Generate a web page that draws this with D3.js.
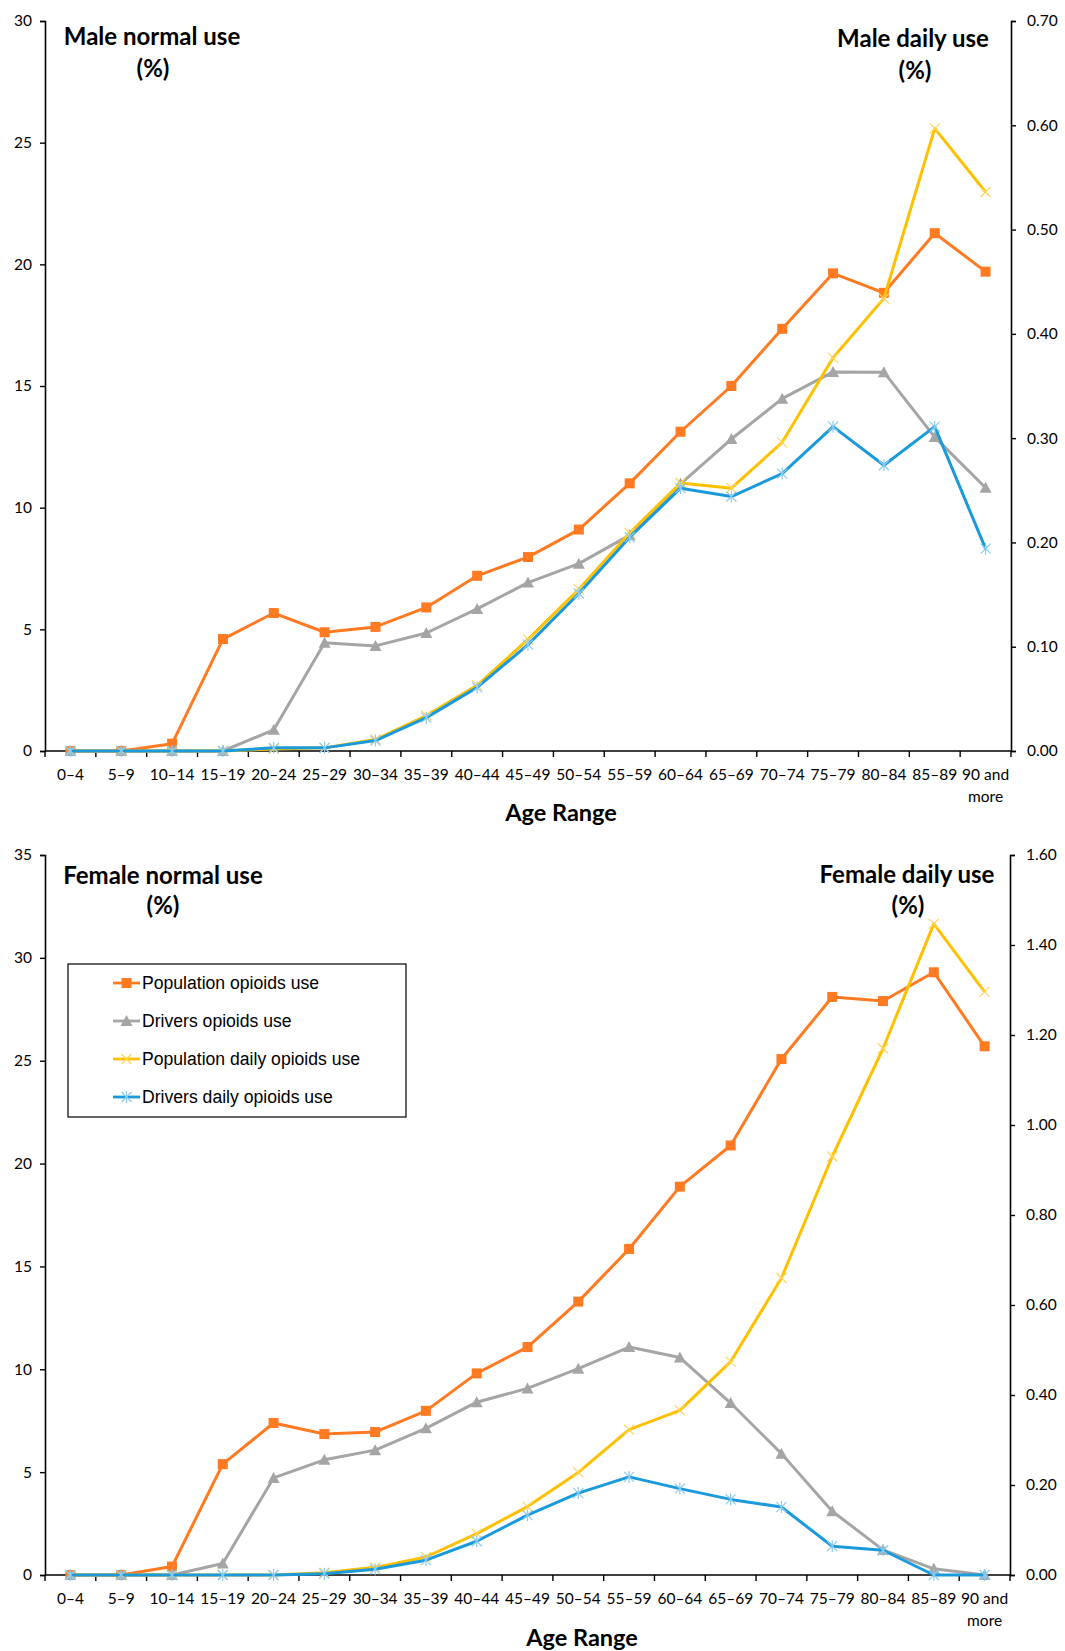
<!DOCTYPE html>
<html><head><meta charset="utf-8">
<script src="https://cdnjs.cloudflare.com/ajax/libs/d3/7.8.5/d3.min.js"></script>
<style>body{margin:0;background:#fff}svg{display:block}</style>
</head><body>
<svg id="c" width="1065" height="1651"></svg>
<script>
const ageRanges = ["0–4","5–9","10–14","15–19","20–24","25–29","30–34","35–39","40–44","45–49","50–54","55–59","60–64","65–69","70–74","75–79","80–84","85–89","90 and more"];

const maleLeftTicks = [0,5,10,15,20,25,30];
const maleRightTicks = [0,0.1,0.2,0.3,0.4,0.5,0.6,0.7];
const femaleLeftTicks = [0,5,10,15,20,25,30,35];
const femaleRightTicks = [0,0.2,0.4,0.6,0.8,1.0,1.2,1.4,1.6];

const malePopulationUse = [0,0,0.3,4.6,5.67,4.88,5.1,5.9,7.2,7.97,9.1,11.0,13.12,15.0,17.35,19.63,18.83,21.28,19.7];
const maleDriversUse    = [0,0,0,0,0.87,4.45,4.32,4.85,5.84,6.92,7.7,8.87,10.98,12.82,14.48,15.58,15.57,12.9,10.82];
const malePopulationDaily = [0,0,0,0,0.002,0.003,0.011,0.034,0.063,0.107,0.155,0.209,0.257,0.252,0.296,0.377,0.434,0.597,0.536];
const maleDriversDaily    = [0,0,0,0,0.003,0.003,0.010,0.032,0.061,0.102,0.151,0.205,0.252,0.244,0.266,0.311,0.274,0.311,0.194];

const femalePopulationUse = [0,0,0.41,5.39,7.39,6.85,6.95,7.98,9.8,11.08,13.29,15.85,18.88,20.88,25.08,28.1,27.9,29.3,25.7];
const femaleDriversUse    = [0,0,0,0.56,4.72,5.6,6.07,7.13,8.4,9.07,10.03,11.08,10.57,8.36,5.9,3.1,1.22,0.3,0];
const femalePopulationDaily = [0,0,0,0,0,0.005,0.017,0.040,0.092,0.152,0.228,0.323,0.366,0.474,0.66,0.93,1.17,1.447,1.296];
const femaleDriversDaily    = [0,0,0,0,0,0.003,0.013,0.033,0.075,0.133,0.182,0.218,0.192,0.168,0.151,0.064,0.055,0,0];

const legendLabels = ["Population opioids use","Drivers opioids use","Population daily opioids use","Drivers daily opioids use"];

const svg = d3.select("#c");
const ORANGE = "#FF7A21", GRAY = "#A5A5A5", YELLOW = "#FFC000", BLUE = "#1A9ADB";
const TICKFONT = "Lato, 'Noto Sans', sans-serif";

function marker(g, type, cx, cy) {
  if (type === "square") {
    g.append("rect").attr("x", cx-5).attr("y", cy-5).attr("width", 10).attr("height", 10).attr("fill", ORANGE);
  } else if (type === "triangle") {
    g.append("path").attr("d", `M${cx},${cy-6}L${cx+6},${cy+5}L${cx-6},${cy+5}Z`).attr("fill", GRAY);
  } else if (type === "x") {
    g.append("path").attr("d", `M${cx-5},${cy-5}L${cx+5},${cy+5}M${cx-5},${cy+5}L${cx+5},${cy-5}`)
      .attr("stroke", "#FFD45C").attr("stroke-width", 1.2).attr("fill", "none");
  } else if (type === "star") {
    g.append("path").attr("d", `M${cx-5},${cy-5}L${cx+5},${cy+5}M${cx-5},${cy+5}L${cx+5},${cy-5}M${cx},${cy-6}L${cx},${cy+6}`)
      .attr("stroke", "#8CCBF0").attr("stroke-width", 1.2).attr("fill", "none");
  }
}

function drawChart(cfg) {
  const g = svg.append("g");
  const x = d3.scaleBand().domain(ageRanges).range([cfg.left, cfg.right]).padding(0);
  const yL = d3.scaleLinear().domain([0, cfg.leftMax]).range([cfg.bottom, cfg.top]);
  const yR = d3.scaleLinear().domain([0, cfg.rightMax]).range([cfg.bottom, cfg.top]);

  const la = g.append("g").attr("transform", `translate(${cfg.left},0)`)
    .call(d3.axisLeft(yL).tickValues(cfg.leftTicks).tickSize(5).tickPadding(8).tickFormat(d3.format("d")));
  const ra = g.append("g").attr("transform", `translate(${cfg.right},0)`)
    .call(d3.axisRight(yR).tickValues(cfg.rightTicks).tickSize(5).tickPadding(11).tickFormat(d3.format(".2f")));
  const ba = g.append("g").attr("transform", `translate(0,${cfg.bottom})`)
    .call(d3.axisBottom(x).tickSize(0).tickPadding(18));
  [la, ra, ba].forEach(a => {
    a.select(".domain").attr("stroke", "#000").attr("stroke-width", 1.6);
    a.selectAll(".tick line").attr("stroke", "#000").attr("stroke-width", 1.4);
    a.selectAll("text").attr("font-family", TICKFONT).attr("font-size", 15.5).attr("fill", "#000");
  });
  ba.select(".domain").attr("d", `M${cfg.left},0H${cfg.right}`);
  const bounds = ageRanges.map(d => x(d)).concat([cfg.right]);
  ba.selectAll(".btick").data(bounds).enter().append("line")
    .attr("x1", d => d).attr("x2", d => d).attr("y1", 0).attr("y2", 6)
    .attr("stroke", "#000").attr("stroke-width", 1.4);
  ba.selectAll(".tick text").each(function(d) {
    if (d === "90 and more") {
      const t = d3.select(this); t.text(null);
      t.append("tspan").attr("x", 0).attr("dy", "0.71em").text("90 and");
      t.append("tspan").attr("x", 0).attr("dy", "1.4em").text("more");
      t.attr("dy", null);
    }
  });

  const series = [
    {vals: cfg.pop, y: yL, color: ORANGE, m: "square"},
    {vals: cfg.drv, y: yL, color: GRAY, m: "triangle"},
    {vals: cfg.popD, y: yR, color: YELLOW, m: "x"},
    {vals: cfg.drvD, y: yR, color: BLUE, m: "star"}
  ];
  const cx = d => x(d) + x.bandwidth()/2;
  series.forEach(s => {
    const line = d3.line().x((v,i) => cx(ageRanges[i])).y(v => s.y(v));
    g.append("path").attr("d", line(s.vals)).attr("fill", "none").attr("stroke", s.color)
      .attr("stroke-width", 3).attr("stroke-linejoin", "round");
    const mg = g.append("g");
    s.vals.forEach((v,i) => marker(mg, s.m, cx(ageRanges[i]), s.y(v)));
  });

  const tf = "Lato, 'Open Sans', sans-serif";
  cfg.titles.forEach(t => {
    g.append("text").attr("x", t.x).attr("y", t.y).attr("text-anchor", "middle")
      .attr("font-family", tf).attr("font-weight", "bold").attr("font-size", 24).attr("fill", "#000").text(t.text);
  });
  g.append("text").attr("x", cfg.xTitle.x).attr("y", cfg.xTitle.y).attr("text-anchor", "middle")
    .attr("font-family", tf).attr("font-weight", "bold").attr("font-size", 23.5).attr("fill", "#000").text("Age Range");
  return g;
}

drawChart({
  top: 21, bottom: 751, left: 45, right: 1011, leftMax: 30, rightMax: 0.7,
  leftTicks: maleLeftTicks, rightTicks: maleRightTicks,
  pop: malePopulationUse, drv: maleDriversUse, popD: malePopulationDaily, drvD: maleDriversDaily,
  titles: [
    {text: "Male normal use", x: 152, y: 45},
    {text: "(%)", x: 153, y: 77},
    {text: "Male daily use", x: 913, y: 47},
    {text: "(%)", x: 915, y: 79}
  ],
  xTitle: {x: 561, y: 821}
});

drawChart({
  top: 855, bottom: 1575, left: 45, right: 1010, leftMax: 35, rightMax: 1.6,
  leftTicks: femaleLeftTicks, rightTicks: femaleRightTicks,
  pop: femalePopulationUse, drv: femaleDriversUse, popD: femalePopulationDaily, drvD: femaleDriversDaily,
  titles: [
    {text: "Female normal use", x: 163, y: 884},
    {text: "(%)", x: 163, y: 914},
    {text: "Female daily use", x: 907, y: 883},
    {text: "(%)", x: 908, y: 914}
  ],
  xTitle: {x: 582, y: 1646}
});

const lg = svg.append("g");
lg.append("rect").attr("x", 68).attr("y", 964).attr("width", 338).attr("height", 153)
  .attr("fill", "#fff").attr("stroke", "#000").attr("stroke-width", 1.2);
const lcolors = [ORANGE, GRAY, YELLOW, BLUE], lmarks = ["square","triangle","x","star"];
legendLabels.forEach((lab, i) => {
  const yy = 983 + i*38;
  lg.append("line").attr("x1", 113).attr("x2", 140).attr("y1", yy).attr("y2", yy)
    .attr("stroke", lcolors[i]).attr("stroke-width", 2.8);
  marker(lg, lmarks[i], 126.5, yy);
  lg.append("text").attr("x", 142).attr("y", yy).attr("dy", "0.35em")
    .attr("font-family", "'Liberation Sans', Arial, sans-serif").attr("font-size", 17.6).attr("fill", "#000").text(lab);
});
</script>
</body></html>
